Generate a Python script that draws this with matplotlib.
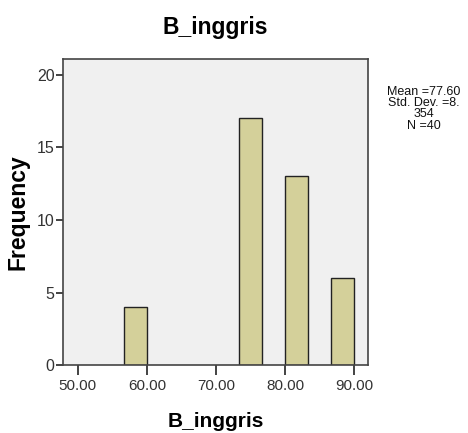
import matplotlib.pyplot as plt
import numpy as np

plt.rcParams['font.family'] = ['Liberation Sans', 'DejaVu Sans']

# histogram data (bin width 10/3)
bin_left = [56.67, 73.33, 80.00, 86.67]
counts = [4, 17, 13, 6]
bin_width = 10 / 3
x_ticks = [50, 60, 70, 80, 90]
x_tick_labels = ['50.00', '60.00', '70.00', '80.00', '90.00']
y_ticks = [0, 5, 10, 15, 20]
stats_text = 'Mean =77.60\nStd. Dev. =8.\n354\nN =40'

fig = plt.figure(figsize=(4.68, 4.33), dpi=100)
ax = fig.add_axes([0.1346, 0.157, 0.6517, 0.7067])
ax.set_facecolor('#f0f0f0')

ax.bar(bin_left, counts, width=bin_width, align='edge',
       color='#d4d09a', edgecolor='#222222', linewidth=1.0, zorder=2)

ax.set_xlim(47.87, 92.0)
ax.set_ylim(0, 21.1)
ax.set_xticks(x_ticks)
ax.set_xticklabels(x_tick_labels)
ax.set_yticks(y_ticks)

for s in ax.spines.values():
    s.set_color('#444444')
    s.set_linewidth(1.2)

ax.tick_params(axis='x', length=7, width=1.2, color='#222222', labelsize=11,
               labelcolor='#333333', pad=3)
ax.tick_params(axis='y', length=5, width=1.2, color='#222222', labelsize=11.5,
               labelcolor='#333333', pad=1)

ax.set_xlabel('B_inggris', fontsize=15, fontweight='bold', labelpad=14)
ax.set_ylabel('Frequency', fontsize=16.5, fontweight='bold', labelpad=5)
ax.set_title('B_inggris', fontsize=16.5, fontweight='bold', pad=18)

fig.text(0.906, 0.802, stats_text, ha='center', va='top', fontsize=9,
         linespacing=0.92, color='#111111')

plt.savefig('out.png', dpi=100)
